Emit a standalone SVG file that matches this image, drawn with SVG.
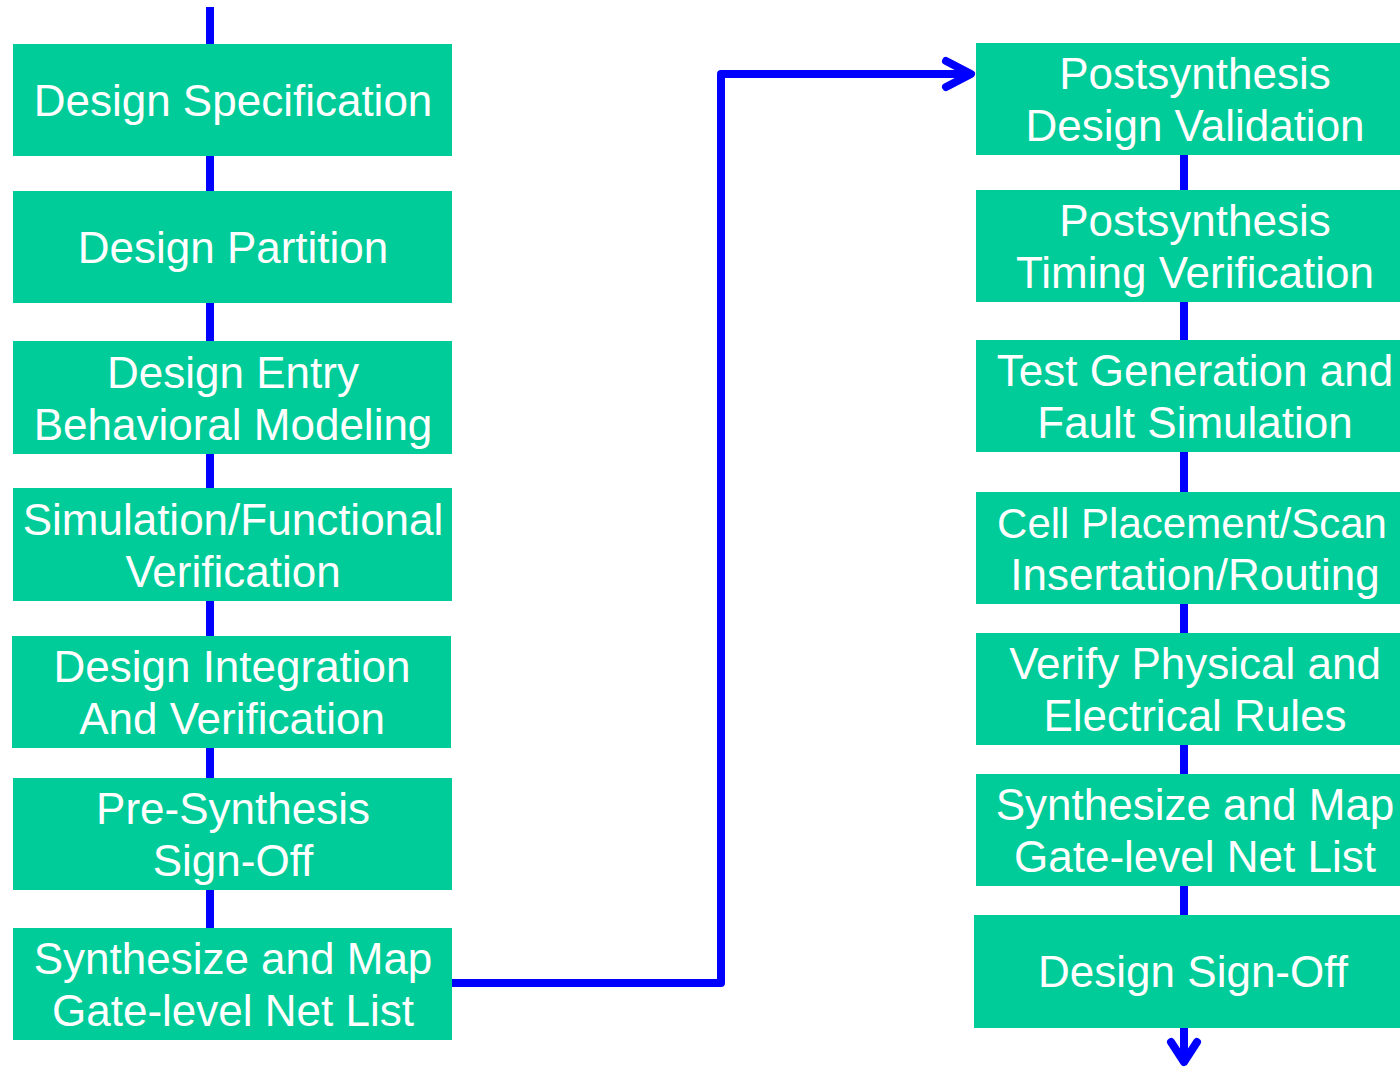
<svg xmlns="http://www.w3.org/2000/svg" width="1400" height="1068" viewBox="0 0 1400 1068">
<style>
.box{fill:#00CC99;}
.lbl{fill:#FFFFFF;font-family:"Liberation Sans",Arial,sans-serif;font-size:44px;text-anchor:middle;}
.wire{fill:none;stroke:#0000FF;stroke-width:8;stroke-linejoin:round;}
.head{fill:none;stroke:#0000FF;stroke-width:8;stroke-linecap:round;stroke-linejoin:round;}
</style>
<rect width="1400" height="1068" fill="#FFFFFF"/>
<g id="connectors">
<line class="wire" x1="210" y1="7" x2="210" y2="930"/>
<path class="wire" d="M452 983 H721 V74 H970"/>
<path class="head" d="M946 61 L971 74 L946 87"/>
<line class="wire" x1="1184" y1="150" x2="1184" y2="1062"/>
<path class="head" d="M1171 1042 L1184 1062 L1197 1042"/>
</g>
<g id="n1"><rect class="box" x="13" y="44" width="439" height="112"/><text class="lbl" x="233" y="116">Design Specification</text></g>
<g id="n2"><rect class="box" x="13" y="191" width="439" height="112"/><text class="lbl" x="233" y="263">Design Partition</text></g>
<g id="n3"><rect class="box" x="13" y="341" width="439" height="113"/><text class="lbl" x="233" y="388">Design Entry</text><text class="lbl" x="233" y="440">Behavioral Modeling</text></g>
<g id="n4"><rect class="box" x="13" y="488" width="439" height="113"/><text class="lbl" x="233" y="535">Simulation/Functional</text><text class="lbl" x="233" y="587">Verification</text></g>
<g id="n5"><rect class="box" x="12" y="636" width="439" height="112"/><text class="lbl" x="232" y="682">Design Integration</text><text class="lbl" x="232" y="734">And Verification</text></g>
<g id="n6"><rect class="box" x="13" y="778" width="439" height="112"/><text class="lbl" x="233" y="824">Pre-Synthesis</text><text class="lbl" x="233" y="876">Sign-Off</text></g>
<g id="n7"><rect class="box" x="13" y="928" width="439" height="112"/><text class="lbl" x="233" y="974">Synthesize and Map</text><text class="lbl" x="233" y="1026">Gate-level Net List</text></g>
<g id="r1"><rect class="box" x="976" y="43" width="424" height="112"/><text class="lbl" x="1195" y="89">Postsynthesis</text><text class="lbl" x="1195" y="141">Design Validation</text></g>
<g id="r2"><rect class="box" x="976" y="190" width="424" height="112"/><text class="lbl" x="1195" y="236">Postsynthesis</text><text class="lbl" x="1195" y="288">Timing Verification</text></g>
<g id="r3"><rect class="box" x="976" y="340" width="424" height="112"/><text class="lbl" x="1195" y="386">Test Generation and</text><text class="lbl" x="1195" y="438">Fault Simulation</text></g>
<g id="r4"><rect class="box" x="976" y="492" width="424" height="112"/><text class="lbl" x="1192" y="538" style="font-size:42px">Cell Placement/Scan</text><text class="lbl" x="1195" y="590">Insertation/Routing</text></g>
<g id="r5"><rect class="box" x="976" y="633" width="424" height="112"/><text class="lbl" x="1195" y="679">Verify Physical and</text><text class="lbl" x="1195" y="731">Electrical Rules</text></g>
<g id="r6"><rect class="box" x="976" y="774" width="424" height="112"/><text class="lbl" x="1195" y="820">Synthesize and Map</text><text class="lbl" x="1195" y="872">Gate-level Net List</text></g>
<g id="r7"><rect class="box" x="974" y="915" width="426" height="113"/><text class="lbl" x="1193" y="987">Design Sign-Off</text></g>
</svg>
